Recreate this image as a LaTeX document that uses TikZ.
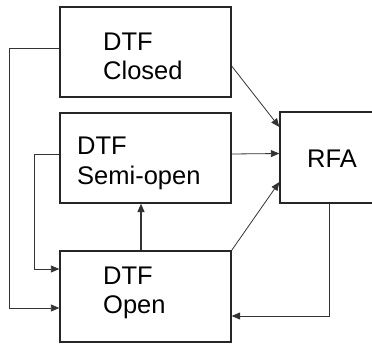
\documentclass[tikz,border=0pt]{standalone}
\usepackage{fontspec}
\setmainfont{Liberation Sans}
\usetikzlibrary{arrows.meta}
\begin{document}
\begin{tikzpicture}[x=1pt,y=-1pt,
  box/.style={draw=black!85,line width=1.3pt,rectangle,inner sep=0pt},
  lbl/.style={anchor=base west,inner sep=0pt,font=\fontsize{25.5}{29}\selectfont},
  conn/.style={draw=black!80,line width=0.8pt,-{Triangle[length=8.5pt,width=7pt]}},
  thick conn/.style={conn,line width=1.5pt}]
\useasboundingbox (0,0) rectangle (372,343);

% boxes (the RFA box runs past the right edge of the page)
\node[box,minimum width=171pt,minimum height=90pt] (closed) at (145.5,52) {};
\node[box,minimum width=171pt,minimum height=90pt] (semi) at (145.5,158) {};
\node[box,minimum width=171pt,minimum height=91pt] (open) at (145.5,296.5) {};
\node[box,minimum width=120pt,minimum height=91pt] (rfa) at (340,157.5) {};

% labels
\node[lbl] (closedA) at (103,50) {DTF};
\node[lbl] (closedB) at (103,79) {Closed};
\node[lbl] (semiA) at (77,154) {DTF};
\node[lbl] (semiB) at (77,184) {Semi-open};
\node[lbl] (openA) at (103,284) {DTF};
\node[lbl] (openB) at (103,313) {Open};
\node[lbl] (rfaA) at (307,167) {RFA};

% connectors
\draw[conn] ([yshift=4pt]closed.west) -- ++(-50,0) |- ([yshift=-11.5pt]open.west);
\draw[conn] ([yshift=4pt]semi.west) -- ++(-25,0) |- ([yshift=27.5pt]open.west);
\draw[conn] ([yshift=-14pt]closed.east) -- ([yshift=30.5pt]rfa.west);
\draw[conn] ([yshift=4pt]semi.east) -- ([yshift=4pt]rfa.west);
\draw[conn] (open.north east) -- ([yshift=-24.5pt]rfa.west);
\draw[conn] ([xshift=-11pt]rfa.south) |- ([yshift=-19.5pt]open.east);
\draw[thick conn] ([xshift=-4.5pt]open.north) -- ([xshift=-4.5pt]semi.south);
\end{tikzpicture}
\end{document}
